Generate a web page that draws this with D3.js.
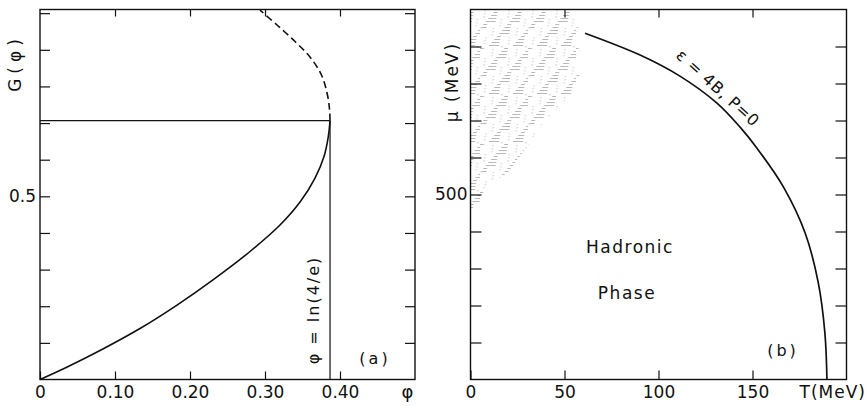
<!DOCTYPE html>
<html>
<head>
<meta charset="utf-8">
<script src="https://cdn.jsdelivr.net/npm/d3@7"></script>
<style>
  body { margin: 0; background: #fff; }
  text { font-family: "DejaVu Sans", sans-serif; fill: #111; }
</style>
</head>
<body>
<script>
const width = 867;
const height = 406;

// DATA - panel (a)
const phiTicks = [0, 0.1, 0.2, 0.3, 0.4];
const phiTickLabels = ['0', '0.10', '0.20', '0.30', '0.40'];
const gTicks = [0.1, 0.2, 0.3, 0.4, 0.5, 0.6, 0.7, 0.8, 0.9, 1.0];
const gTickLabels = ['', '', '', '', '0.5', '', '', '', '', ''];
const phiSolid = [0, 0.0356, 0.08, 0.1333, 0.1822, 0.2311, 0.28, 0.32, 0.3467, 0.3667, 0.3787, 0.3844, 0.3867];
const gSolid   = [0, 0.0336, 0.0792, 0.1392, 0.2025, 0.2727, 0.3494, 0.4217, 0.4845, 0.55, 0.6087, 0.663, 0.7066];
const phiDashed = [0.3867, 0.3861, 0.3833, 0.3753, 0.36, 0.34, 0.316, 0.2933];
const gDashed   = [0.7066, 0.7357, 0.7766, 0.8312, 0.8803, 0.9226, 0.9677, 1.0083];
const phiCrit = 0.3867; // ln(4/e)
const gCrit = 0.7066;

// DATA - panel (b)
const tTicks = [0, 50, 100, 150];
const muTicks = [100, 200, 300, 400, 500, 600, 700, 800, 900];
const muTickLabels = ['', '', '', '', '500', '', '', '', ''];
const tCurve  = [60.9, 90.2, 111.4, 131.1, 143.4, 152.4, 166.5, 178, 185, 188.5, 189.6];
const muCurve = [936, 877, 820, 747, 682, 625, 520, 396, 261, 126, 0];
const shadeT  = [0, 57, 58, 40, 20, 8, 4, 0];
const shadeMu = [1000, 1000, 790, 700, 560, 520, 470, 460];

const svg = d3.select('body').append('svg')
    .attr('width', width)
    .attr('height', height);

// SCALES
const xA = d3.scaleLinear().domain([0, 0.5]).range([40, 415]);
const yA = d3.scaleLinear().domain([0, 1.01]).range([379.5, 9.5]);
const xB = d3.scaleLinear().domain([0, 200]).range([470.5, 846.5]);
const yB = d3.scaleLinear().domain([0, 1000]).range([379.5, 9.5]);

function styleAxis(g) {
    g.select('.domain').remove();
    g.selectAll('line').attr('stroke', '#111').attr('stroke-width', 1.2);
    g.selectAll('text')
        .attr('font-family', '"DejaVu Sans", sans-serif')
        .attr('font-size', 17)
        .attr('fill', '#111');
}

function frame(x, y) {
    svg.append('rect')
        .attr('x', x.range()[0])
        .attr('y', y.range()[1])
        .attr('width', x.range()[1] - x.range()[0])
        .attr('height', y.range()[0] - y.range()[1])
        .attr('fill', 'none')
        .attr('stroke', '#111')
        .attr('stroke-width', 1.4);
}

// ---------- PANEL (a) ----------
svg.append('g')
    .attr('transform', `translate(0, ${yA.range()[0]})`)
    .call(d3.axisBottom(xA).tickValues(phiTicks).tickSize(-8).tickPadding(6)
        .tickFormat((d, i) => phiTickLabels[i]))
    .call(styleAxis);
svg.append('g')
    .attr('transform', `translate(0, ${yA.range()[1]})`)
    .call(d3.axisTop(xA).tickValues(phiTicks.slice(1)).tickSize(-7).tickFormat(''))
    .call(styleAxis);
svg.append('g')
    .attr('transform', `translate(${xA.range()[0]}, 0)`)
    .call(d3.axisLeft(yA).tickValues(gTicks).tickSize(-10).tickPadding(4)
        .tickFormat((d, i) => gTickLabels[i]))
    .call(styleAxis);
svg.append('g')
    .attr('transform', `translate(${xA.range()[1]}, 0)`)
    .call(d3.axisRight(yA).tickValues(gTicks).tickSize(-10).tickFormat(''))
    .call(styleAxis);
frame(xA, yA);

const lineA = d3.line()
    .x(d => xA(d[0]))
    .y(d => yA(d[1]))
    .curve(d3.curveCatmullRom.alpha(0.5));

svg.append('path')
    .attr('d', lineA(d3.zip(phiSolid, gSolid)))
    .attr('fill', 'none')
    .attr('stroke', '#111')
    .attr('stroke-width', 1.6);

svg.append('path')
    .attr('d', lineA(d3.zip(phiDashed, gDashed)))
    .attr('fill', 'none')
    .attr('stroke', '#111')
    .attr('stroke-width', 1.6)
    .attr('stroke-dasharray', '7,4');

svg.append('line')
    .attr('x1', xA(0)).attr('x2', xA(phiCrit))
    .attr('y1', yA(gCrit)).attr('y2', yA(gCrit))
    .attr('stroke', '#111').attr('stroke-width', 1.2);
svg.append('line')
    .attr('x1', xA(phiCrit)).attr('x2', xA(phiCrit))
    .attr('y1', yA(0)).attr('y2', yA(gCrit))
    .attr('stroke', '#111').attr('stroke-width', 1.2);

svg.append('text')
    .attr('x', xA(0.49))
    .attr('y', 398)
    .style('text-anchor', 'middle')
    .style('font-size', '18px')
    .text('φ');

svg.append('text')
    .attr('transform', 'translate(21, 63) rotate(-90)')
    .style('text-anchor', 'middle')
    .style('font-size', '17px')
    .style('letter-spacing', '5px')
    .text('G(φ)');

svg.append('text')
    .attr('transform', `translate(${xA(phiCrit) - 17}, 310) rotate(-90)`)
    .style('text-anchor', 'middle')
    .style('font-size', '16px')
    .style('letter-spacing', '2px')
    .attr('dy', '0.35em')
    .text('φ = ln(4/e)');

svg.append('text')
    .attr('x', 375)
    .attr('y', 358)
    .attr('dy', '0.35em')
    .style('text-anchor', 'middle')
    .style('font-size', '16px')
    .style('letter-spacing', '3px')
    .text('(a)');

// ---------- PANEL (b) ----------
const defs = svg.append('defs');
const pat = defs.append('pattern')
    .attr('id', 'stipple')
    .attr('patternUnits', 'userSpaceOnUse')
    .attr('width', 48)
    .attr('height', 48);
d3.range(16).forEach(i => {
    const y = i * 3;
    [0, 24].forEach(off => {
        pat.append('rect')
            .attr('x', (off + 96 - i * 2.6) % 48)
            .attr('y', y)
            .attr('width', 4 + (i % 4) * 2)
            .attr('height', 0.8)
            .attr('fill', '#a8a8a8');
        pat.append('rect')
            .attr('x', (off + 96 - i * 2.6 + 12 + (i % 3) * 2) % 48)
            .attr('y', y + 1.5)
            .attr('width', 2)
            .attr('height', 0.7)
            .attr('fill', '#c4c4c4');
    });
});
defs.append('clipPath')
    .attr('id', 'shadeClip')
    .append('polygon')
    .attr('points', d3.zip(shadeT, shadeMu).map(d => `${xB(d[0])},${yB(d[1])}`).join(' '));

svg.append('rect')
    .attr('x', xB(0))
    .attr('y', yB(1000))
    .attr('width', xB(60) - xB(0))
    .attr('height', yB(440) - yB(1000))
    .attr('fill', 'url(#stipple)')
    .attr('clip-path', 'url(#shadeClip)');

svg.append('g')
    .attr('transform', `translate(0, ${yB.range()[0]})`)
    .call(d3.axisBottom(xB).tickValues(tTicks).tickSize(-9).tickPadding(6))
    .call(styleAxis);
svg.append('g')
    .attr('transform', `translate(0, ${yB.range()[1]})`)
    .call(d3.axisTop(xB).tickValues(tTicks.slice(1)).tickSize(-8).tickFormat(''))
    .call(styleAxis);
svg.append('g')
    .attr('transform', `translate(${xB.range()[0]}, 0)`)
    .call(d3.axisLeft(yB).tickValues(muTicks).tickSize(-11).tickPadding(3)
        .tickFormat((d, i) => muTickLabels[i]))
    .call(styleAxis);
svg.append('g')
    .attr('transform', `translate(${xB.range()[1]}, 0)`)
    .call(d3.axisRight(yB).tickValues(muTicks).tickSize(-11).tickFormat(''))
    .call(styleAxis);
frame(xB, yB);

const lineB = d3.line()
    .x(d => xB(d[0]))
    .y(d => yB(d[1]))
    .curve(d3.curveCatmullRom.alpha(0.5));

svg.append('path')
    .attr('d', lineB(d3.zip(tCurve, muCurve)))
    .attr('fill', 'none')
    .attr('stroke', '#111')
    .attr('stroke-width', 1.7);

svg.append('text')
    .attr('x', 866)
    .attr('y', 398)
    .style('text-anchor', 'end')
    .style('font-size', '17px')
    .style('letter-spacing', '1px')
    .text('T(MeV)');

svg.append('text')
    .attr('transform', 'translate(458, 82) rotate(-90)')
    .style('text-anchor', 'middle')
    .style('font-size', '17px')
    .style('letter-spacing', '2px')
    .text('μ (MeV)');

svg.append('text')
    .attr('transform', 'translate(718, 88) rotate(42)')
    .style('text-anchor', 'middle')
    .style('font-size', '16px')
    .style('letter-spacing', '0.8px')
    .attr('dy', '0.35em')
    .text('ε = 4B, P=0');

svg.append('text')
    .attr('x', 630)
    .attr('y', 247)
    .attr('dy', '0.35em')
    .style('text-anchor', 'middle')
    .style('font-size', '17px')
    .style('letter-spacing', '1.5px')
    .text('Hadronic');

svg.append('text')
    .attr('x', 627)
    .attr('y', 293)
    .attr('dy', '0.35em')
    .style('text-anchor', 'middle')
    .style('font-size', '17px')
    .style('letter-spacing', '1.5px')
    .text('Phase');

svg.append('text')
    .attr('x', 783)
    .attr('y', 350)
    .attr('dy', '0.35em')
    .style('text-anchor', 'middle')
    .style('font-size', '16px')
    .style('letter-spacing', '3px')
    .text('(b)');
</script>
</body>
</html>
